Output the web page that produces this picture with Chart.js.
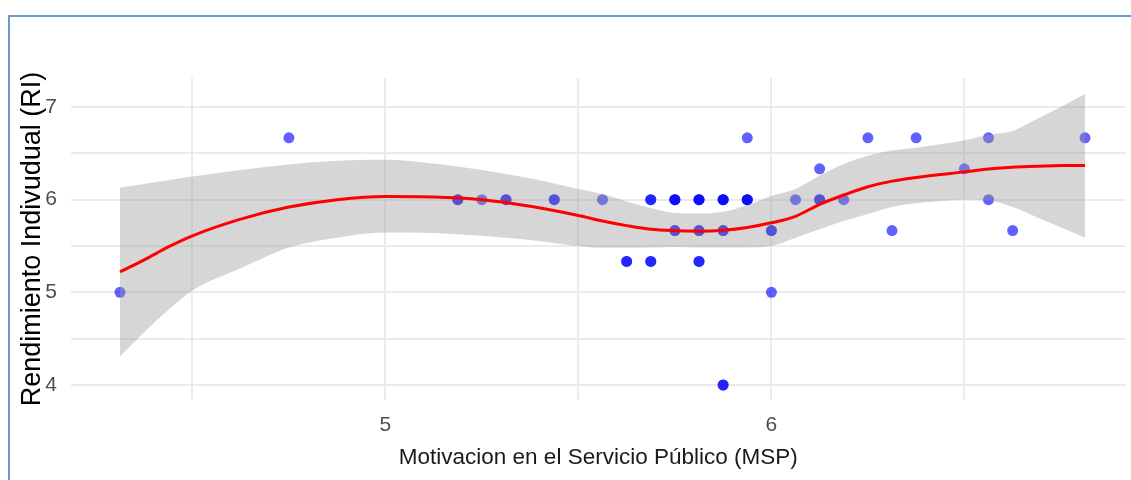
<!DOCTYPE html>
<html>
<head>
<meta charset="utf-8">
<title>MSP vs RI</title>
<script src="https://cdn.jsdelivr.net/npm/chart.js@4.4.1/dist/chart.umd.min.js"></script>
<style>
    body { margin: 0; background: #fff; }
    #wrap { position: relative; width: 1131px; height: 480px; overflow: hidden; }
    #myChart { position: absolute; left: 0; top: 0; }
    #frame { position: absolute; left: 8px; top: 15px; right: -5px; bottom: -5px;
             border-left: 2px solid #6c98cf; border-top: 2px solid #6c98cf; }
</style>
</head>
<body>
<div id="wrap">
    <canvas id="myChart" width="1131" height="480"></canvas>
    <div id="frame"></div>
</div>
<script>
// puntos observados (MSP, RI) - repetidos donde el punto se ve mas oscuro
const mspValues = [4.3125, 4.75, 5.1875, 5.1875, 5.25, 5.3125, 5.3125, 5.4375, 5.4375, 5.5625,
    5.625, 5.625, 5.6875, 5.6875, 5.6875, 5.6875, 5.75, 5.75, 5.75, 5.75, 5.75,
    5.8125, 5.8125, 5.8125, 5.8125, 5.8125, 5.8125, 5.8125,
    5.875, 5.875, 5.875, 5.875, 5.875, 5.875, 5.875,
    5.9375, 5.9375, 5.9375, 5.9375, 6.0, 6.0, 6.0, 6.0625,
    6.125, 6.125, 6.125, 6.1875, 6.25, 6.3125, 6.375, 6.5, 6.5625, 6.5625, 6.625, 6.8125];
const riValues = [5, 6.667, 6, 6, 6, 6, 6, 6, 6, 6,
    5.333, 5.333, 6, 6, 5.333, 5.333, 6, 6, 6, 5.667, 5.667,
    6, 6, 6, 5.667, 5.667, 5.333, 5.333,
    6, 6, 6, 5.667, 5.667, 4, 4,
    6.667, 6, 6, 6, 5.667, 5.667, 5, 6,
    6.333, 6, 6, 6, 6.667, 5.667, 6.667, 6.333, 6.667, 6, 5.667, 6.667];

// curva loess y banda de confianza
const smoothX = [4.3125, 4.375, 4.4375, 4.5, 4.625, 4.75, 4.875, 5.0, 5.125, 5.25, 5.375, 5.5,
    5.5625, 5.625, 5.6875, 5.75, 5.8125, 5.875, 5.9375, 6.0, 6.0625, 6.125, 6.1875, 6.25,
    6.3125, 6.375, 6.5, 6.5625, 6.625, 6.6875, 6.75, 6.8125];
const smoothFit = [5.22, 5.35, 5.49, 5.61, 5.79, 5.92, 6.0, 6.035, 6.03, 6.0, 5.93, 5.83,
    5.77, 5.72, 5.68, 5.665, 5.66, 5.67, 5.7, 5.75, 5.82, 5.95, 6.05, 6.14,
    6.2, 6.24, 6.3, 6.33, 6.35, 6.36, 6.37, 6.37];
const smoothUpper = [6.13, 6.17, 6.21, 6.25, 6.32, 6.38, 6.42, 6.43, 6.39, 6.32, 6.23, 6.115,
    6.06, 5.98, 5.91, 5.855, 5.85, 5.87, 5.94, 6.04, 6.115, 6.26, 6.385, 6.475,
    6.53, 6.56, 6.64, 6.7, 6.74, 6.87, 7.0, 7.14];
const smoothLower = [4.31, 4.57, 4.81, 5.02, 5.26, 5.485, 5.59, 5.645, 5.64, 5.61, 5.565, 5.5,
    5.48, 5.48, 5.485, 5.49, 5.485, 5.485, 5.485, 5.5, 5.59, 5.68, 5.77, 5.845,
    5.92, 5.96, 6.0, 5.99, 5.92, 5.81, 5.7, 5.59];

const xTicksShown = [5, 6];
const yTicksShown = [4, 5, 6, 7];

const toXY = (xs, ys) => xs.map((x, i) => ({x: x, y: ys[i]}));

const fontFamily = "'Liberation Sans', Arial, sans-serif";
const tickFont = {family: fontFamily, size: 21};

const data = {
    datasets: [
        {
            type: 'line',
            data: toXY(smoothX, smoothFit),
            borderColor: '#ff0000',
            borderWidth: 3,
            pointRadius: 0,
            cubicInterpolationMode: 'monotone',
            fill: false,
            order: 1
        },
        {
            type: 'line',
            data: toXY(smoothX, smoothUpper),
            borderWidth: 0,
            borderColor: 'rgba(0,0,0,0)',
            backgroundColor: 'rgba(153,153,153,0.4)',
            pointRadius: 0,
            cubicInterpolationMode: 'monotone',
            fill: '+1',
            order: 2
        },
        {
            type: 'line',
            data: toXY(smoothX, smoothLower),
            borderWidth: 0,
            borderColor: 'rgba(0,0,0,0)',
            pointRadius: 0,
            cubicInterpolationMode: 'monotone',
            fill: false,
            order: 2
        },
        {
            type: 'scatter',
            data: toXY(mspValues, riValues),
            backgroundColor: 'rgba(0,0,255,0.62)',
            borderWidth: 0,
            pointRadius: 5.5,
            order: 3
        }
    ]
};

const config = {
    type: 'scatter',
    data: data,
    options: {
        responsive: false,
        animation: false,
        layout: {
            padding: {left: 10, top: 78, right: 0, bottom: 0}
        },
        scales: {
            x: {
                type: 'linear',
                min: 4.1855,
                max: 6.9174,
                border: {display: false},
                grid: {color: '#ebebeb', lineWidth: 2, drawTicks: false},
                ticks: {
                    stepSize: 0.5,
                    includeBounds: false,
                    autoSkip: false,
                    maxRotation: 0,
                    padding: 13,
                    color: '#4d4d4d',
                    font: tickFont,
                    callback: (value) => xTicksShown.includes(value) ? String(value) : ''
                },
                title: {
                    display: true,
                    text: 'Motivacion en el Servicio Público (MSP)',
                    color: '#1a1a1a',
                    font: {family: fontFamily, size: 22.5},
                    padding: {top: 0, bottom: 9}
                },
                afterFit: (scale) => {
                    scale.height = 80;
                    scale.paddingLeft = 0;
                    scale.paddingRight = 0;
                }
            },
            y: {
                type: 'linear',
                min: 3.838,
                max: 7.313,
                border: {display: false},
                grid: {color: '#ebebeb', lineWidth: 2, drawTicks: false},
                ticks: {
                    stepSize: 0.5,
                    includeBounds: false,
                    autoSkip: false,
                    padding: 14,
                    color: '#4d4d4d',
                    font: tickFont,
                    callback: (value) => yTicksShown.includes(value) ? String(value) : ''
                },
                title: {
                    display: true,
                    text: 'Rendimiento Indivudual (RI)',
                    color: '#000000',
                    font: {family: fontFamily, size: 27},
                    padding: {top: 6, bottom: 0}
                },
                afterFit: (scale) => { scale.width = 61; }
            }
        },
        plugins: {
            legend: {display: false},
            tooltip: {enabled: false}
        }
    }
};

const myChart = new Chart(document.getElementById('myChart'), config);
</script>
</body>
</html>
